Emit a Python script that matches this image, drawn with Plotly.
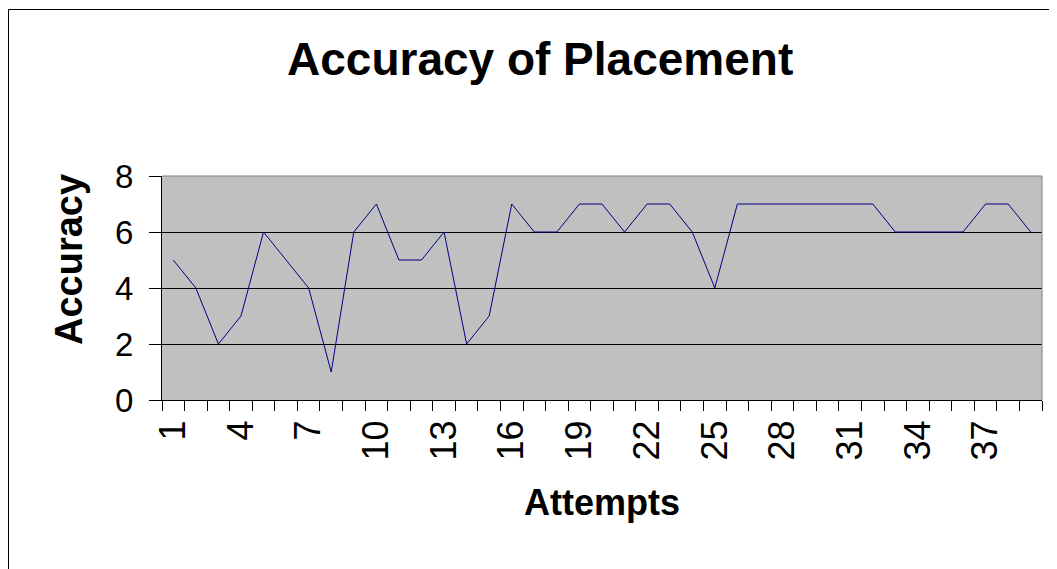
import plotly.graph_objects as go

attempts = list(range(1, 40))
accuracy = [5, 4, 2, 3, 6, 5, 4, 1, 6, 7,
            5, 5, 6, 2, 3, 7, 6, 6, 7, 7,
            6, 7, 7, 6, 4, 7, 7, 7, 7, 7,
            7, 7, 6, 6, 6, 6, 7, 7, 6]
x_tick_labels = [1, 4, 7, 10, 13, 16, 19, 22, 25, 28, 31, 34, 37]
y_ticks = [0, 2, 4, 6, 8]

OFF = 8  # page body margin
W, H = 1057 - OFF, 569 - OFF
L, R, T, B = 162 - OFF, 1042 - OFF, 176 - OFF, 400 - OFF  # plot area in pixels

def px(xp):
    return (xp - OFF - L) / (R - L)

def py(yp):
    return (B - (yp - OFF)) / (B - T)

FONT = "Liberation Sans, Arial, sans-serif"

fig = go.Figure()
fig.add_trace(go.Scatter(
    x=attempts, y=accuracy, mode="lines",
    line=dict(color="#000080", width=1),
    showlegend=False, hoverinfo="x+y",
))

fig.update_layout(
    width=W, height=H,
    margin=dict(l=L, r=W - R, t=T, b=H - B, pad=0),
    paper_bgcolor="white",
    plot_bgcolor="#C0C0C0",
    font=dict(family=FONT, color="black"),
    showlegend=False,
)

fig.update_xaxes(
    range=[0.5, 39.5],
    tickmode="array", tickvals=x_tick_labels, ticktext=[str(v) for v in x_tick_labels],
    tickangle=-90, ticks="", ticklen=0,
    tickfont=dict(size=36, family=FONT, color="black"),
    showgrid=False, zeroline=False,
    showline=True, linecolor="black", linewidth=1,
    minor=dict(tick0=0.5, dtick=1, ticks="outside", ticklen=10, tickcolor="black", tickwidth=1, showgrid=False),
    ticklabelstandoff=5,
)

fig.update_yaxes(
    range=[0, 8],
    tickmode="array", tickvals=y_ticks,
    ticks="outside", ticklen=12, tickcolor="black", tickwidth=1,
    tickfont=dict(size=33, family=FONT, color="black"),
    showgrid=True, gridcolor="black", gridwidth=1,
    zeroline=False,
    showline=True, linecolor="black", linewidth=1,
    ticklabelstandoff=9,
)

# plot area right and top edges (gray)
fig.add_shape(type="line", xref="paper", yref="paper", x0=1, x1=1, y0=0, y1=1,
              line=dict(color="#808080", width=1))
fig.add_shape(type="line", xref="paper", yref="paper", x0=0, x1=1, y0=1, y1=1,
              line=dict(color="#808080", width=1))

# chart area border
fig.add_shape(type="rect", xref="paper", yref="paper",
              x0=px(8.5), x1=px(1075), y0=py(590), y1=py(9.5),
              line=dict(color="black", width=1), fillcolor="rgba(0,0,0,0)", layer="below")

fig.add_annotation(text="<b>Accuracy of Placement</b>", xref="paper", yref="paper",
                   x=px(540), y=py(59), xanchor="center", yanchor="middle",
                   showarrow=False, font=dict(size=46, family=FONT, color="black"))
fig.add_annotation(text="<b>Attempts</b>", xref="paper", yref="paper",
                   x=px(602), y=py(502), xanchor="center", yanchor="middle",
                   showarrow=False, font=dict(size=36, family=FONT, color="black"))
fig.add_annotation(text="<b>Accuracy</b>", xref="paper", yref="paper",
                   x=px(69), y=py(260), xanchor="center", yanchor="middle",
                   textangle=-90,
                   showarrow=False, font=dict(size=38, family=FONT, color="black"))

fig.write_html("out.html")
